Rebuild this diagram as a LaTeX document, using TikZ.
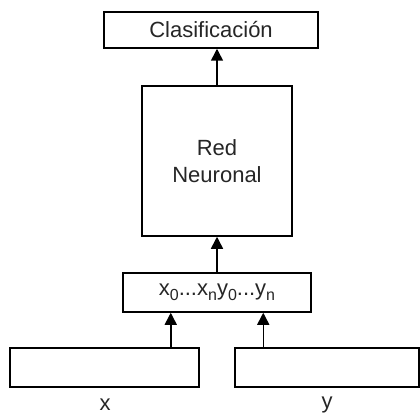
\documentclass[tikz,border=0pt]{standalone}
\usepackage{fontspec}
\setmainfont{Liberation Sans}
\usetikzlibrary{arrows.meta}

\newcommand{\subind}[1]{\raisebox{-0.22em}{\fontsize{16}{16}\selectfont #1}}

\begin{document}
\begin{tikzpicture}[
    x=1pt,y=-1pt,
    font=\fontsize{22}{27}\selectfont,
    text=black!85,
    caja/.style={rectangle,draw,line width=1.5pt,fill=white,
                 inner sep=0pt,align=center},
    flecha/.style={line width=1.5pt,-{Triangle[width=12pt,length=12pt]}}]

  \useasboundingbox (0,0) rectangle (420,414);

  % --- las cajas, de arriba abajo ---
  \node[caja,minimum width=214pt,minimum height=36pt] (clasif) at (211,30) {Clasificación};
  \node[caja,minimum width=150pt,minimum height=150pt] (red) at (217,161) {Red\\Neuronal};
  \node[caja,minimum width=188pt,minimum height=39pt] (concat) at (217,292.5)
    {x\subind{0}...x\subind{n}y\subind{0}...y\subind{n}};
  \node[caja,minimum width=189pt,minimum height=39pt] (entx) at (104.5,367.5) {};
  \node[caja,minimum width=184pt,minimum height=39pt] (enty) at (327,367.5) {};

  % --- etiquetas de las entradas ---
  \node (etqx) at (105,405) {x};
  \node (etqy) at (327,405) {y};

  % --- las flechas ---
  \draw[flecha] ([xshift=-29pt]entx.north east) -- ([xshift=-29pt]entx.north east |- concat.south);
  \draw[flecha] ([xshift=29pt]enty.north west) -- ([xshift=29pt]enty.north west |- concat.south);
  \draw[flecha] (concat.north) -- (red.south);
  \draw[flecha] (red.north) -- (red.north |- clasif.south);

\end{tikzpicture}
\end{document}
